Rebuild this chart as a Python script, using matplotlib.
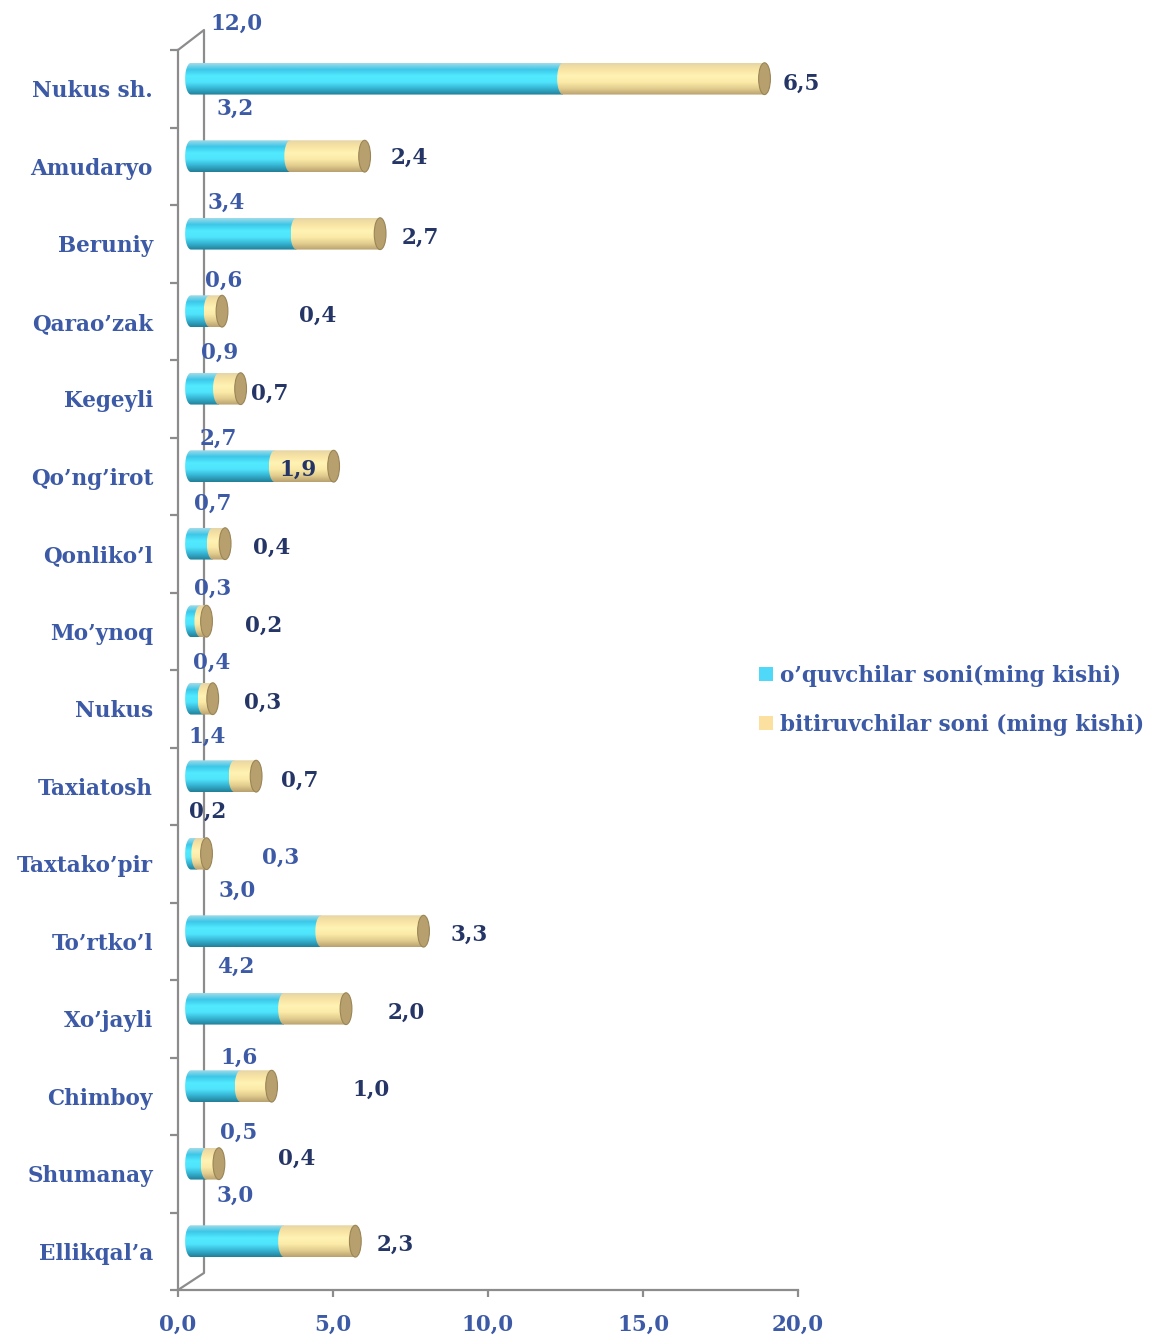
import numpy as np
import matplotlib
matplotlib.use("Agg")
import matplotlib.pyplot as plt
from matplotlib.path import Path
from matplotlib.patches import PathPatch, Ellipse, Patch

# ---- Data ----
districts = ["Nukus sh.", "Amudaryo", "Beruniy", "Qarao\u2019zak", "Kegeyli", "Qo\u2019ng\u2019irot",
             "Qonliko\u2019l", "Mo\u2019ynoq", "Nukus", "Taxiatosh", "Taxtako\u2019pir",
             "To\u2019rtko\u2019l", "Xo\u2019jayli", "Chimboy", "Shumanay", "Ellikqal\u2019a"]
students = [12.0, 3.2, 3.4, 0.6, 0.9, 2.7, 0.7, 0.3, 0.4, 1.4, 0.2, 4.2, 3.0, 1.6, 0.5, 3.0]
graduates = [6.5, 2.4, 2.7, 0.4, 0.7, 1.9, 0.4, 0.2, 0.3, 0.7, 0.3, 3.3, 2.0, 1.0, 0.4, 2.3]
# label texts as printed on the chart
student_labels = ["12,0", "3,2", "3,4", "0,6", "0,9", "2,7", "0,7", "0,3", "0,4", "1,4",
                  "0,2", "3,0", "4,2", "1,6", "0,5", "3,0"]
graduate_labels = ["6,5", "2,4", "2,7", "0,4", "0,7", "1,9", "0,4", "0,2", "0,3", "0,7",
                   "0,3", "3,3", "2,0", "1,0", "0,4", "2,3"]
series_names = ["o\u2019quvchilar soni(ming kishi)", "bitiruvchilar soni (ming kishi)"]
xticks = [0, 5, 10, 15, 20]
xtick_labels = ["0,0", "5,0", "10,0", "15,0", "20,0"]

# ---- Layout (label placement, data units) ----
s_lab_x = [1.90, 1.84, 1.55, 1.48, 1.35, 1.29, 1.13, 1.13, 1.10, 0.94, 0.94, 1.90, 1.87, 1.97, 1.97, 1.84]
s_lab_dy = [-0.835, -0.739, -0.526, -0.519, -0.59, -0.481, -0.642, -0.545, -0.59, -0.635,
            -0.668, -0.648, -0.668, -0.494, -0.526, -0.713]
g_lab_x = [20.10, 7.45, 7.81, 4.52, 2.97, 3.87, 3.03, 2.77, 2.74, 3.94, 3.32, 9.39, 7.35, 6.23, 3.84, 7.0]
g_lab_dy = [-0.061, -0.106, -0.074, -0.068, -0.061, -0.081, -0.074, -0.068, -0.074, -0.068,
            -0.074, -0.081, -0.074, -0.081, -0.19, -0.081]

BLUE = "#3C5AA6"
NAVY = "#243566"
GRAY = "#8C8C8C"
FONT = "DejaVu Serif"
FS = 15.5

CYAN_STOPS = ["#9fdbe8", "#3cc6e8", "#52eaff", "#4fe4fb", "#35b3d2", "#237f98"]
YEL_STOPS = ["#e6d6a6", "#f8e4a4", "#fff3b4", "#fbeaa8", "#e2cd8e", "#b9a170"]
CAP_FACE = "#b7a06e"
CAP_EDGE = "#9a8556"

X0 = 0.42        # bar start (depth offset)
DY = -0.13       # bar centre shift upward (depth offset)
BAR_H = 0.41
R = 0.19         # end ellipse half-width in x units


def gradient(stops, n=64):
    cols = np.array([matplotlib.colors.to_rgb(c) for c in stops])
    t = np.linspace(0, 1, len(stops))
    tt = np.linspace(0, 1, n)
    img = np.stack([np.interp(tt, t, cols[:, k]) for k in range(3)], axis=1)
    return img[:, None, :]


def segment(ax, x0, x1, yc, stops, z):
    h = BAR_H / 2
    ang = np.linspace(np.pi / 2, 3 * np.pi / 2, 40)
    ex = x0 + R * np.cos(ang)
    ey = yc - h * np.sin(ang)
    verts = list(zip(ex, ey)) + [(x1, yc + h), (x1, yc - h), (ex[0], ey[0])]
    codes = [Path.MOVETO] + [Path.LINETO] * (len(verts) - 2) + [Path.CLOSEPOLY]
    clip = PathPatch(Path(verts, codes), facecolor="none", edgecolor="none", transform=ax.transData)
    ax.add_patch(clip)
    im = ax.imshow(gradient(stops), extent=(x0 - R, x1, yc + h, yc - h), aspect="auto",
                   origin="upper", zorder=z, interpolation="bilinear")
    im.set_clip_path(clip)


fig = plt.figure(figsize=(11.52, 13.35), dpi=100)
ax = fig.add_axes([178 / 1152, 1 - 1290 / 1335, 620 / 1152, 1240 / 1335])
ax.set_xlim(0, 20)
ax.set_ylim(15.5, -0.5)

# back wall lines
bx = 26 / 31
ax.plot([0, bx, bx, 0], [-0.5, -0.758, 15.28, 15.5], color=GRAY, lw=1.6, zorder=1, clip_on=False)

for i in range(len(districts)):
    yc = i + DY
    s_end = X0 + students[i]
    g_end = s_end + graduates[i]
    segment(ax, X0, s_end, yc, CYAN_STOPS, 3)
    segment(ax, s_end, g_end, yc, YEL_STOPS, 4)
    ax.add_patch(Ellipse((g_end, yc), 2 * R, BAR_H, facecolor=CAP_FACE, edgecolor=CAP_EDGE,
                         lw=0.8, zorder=5))

# data labels (Taxtako'pir has its colours swapped on the original)
for i in range(len(districts)):
    c1, c2 = (NAVY, BLUE) if i == 10 else (BLUE, NAVY)
    ax.text(s_lab_x[i], i + s_lab_dy[i], student_labels[i], color=c1, fontsize=FS,
            fontweight="bold", family=FONT, ha="center", va="center", zorder=6, clip_on=False)
    ax.text(g_lab_x[i], i + g_lab_dy[i], graduate_labels[i], color=c2, fontsize=FS,
            fontweight="bold", family=FONT, ha="center", va="center", zorder=6, clip_on=False)

# axes styling
for side in ("top", "right"):
    ax.spines[side].set_visible(False)
for side in ("left", "bottom"):
    ax.spines[side].set_color(GRAY)
    ax.spines[side].set_linewidth(1.6)

ax.set_yticks(range(len(districts)))
ax.set_yticklabels(districts)
ax.set_yticks(np.arange(-0.5, 16, 1), minor=True)
ax.tick_params(axis="y", which="major", length=0, pad=18)
ax.tick_params(axis="y", which="minor", length=6, width=1.6, color=GRAY)
ax.set_xticks(xticks)
ax.set_xticklabels(xtick_labels)
ax.tick_params(axis="x", length=5, width=1.6, color=GRAY, pad=12)
for lab in ax.get_yticklabels() + ax.get_xticklabels():
    lab.set_family(FONT)
    lab.set_fontweight("bold")
    lab.set_fontsize(FS)
    lab.set_color(BLUE)

handles = [Patch(facecolor="#4fd8f8", edgecolor="none"), Patch(facecolor="#fbe0a0", edgecolor="none")]
leg = fig.legend(handles, series_names, loc="center left", bbox_to_anchor=(740 / 1152, 1 - 700 / 1335),
                 frameon=False, handlelength=0.65, handleheight=0.65, handletextpad=0.3,
                 labelspacing=1.25, prop={"family": FONT, "weight": "bold", "size": FS})
for t in leg.get_texts():
    t.set_color(BLUE)

fig.savefig("out.png", dpi=100)
